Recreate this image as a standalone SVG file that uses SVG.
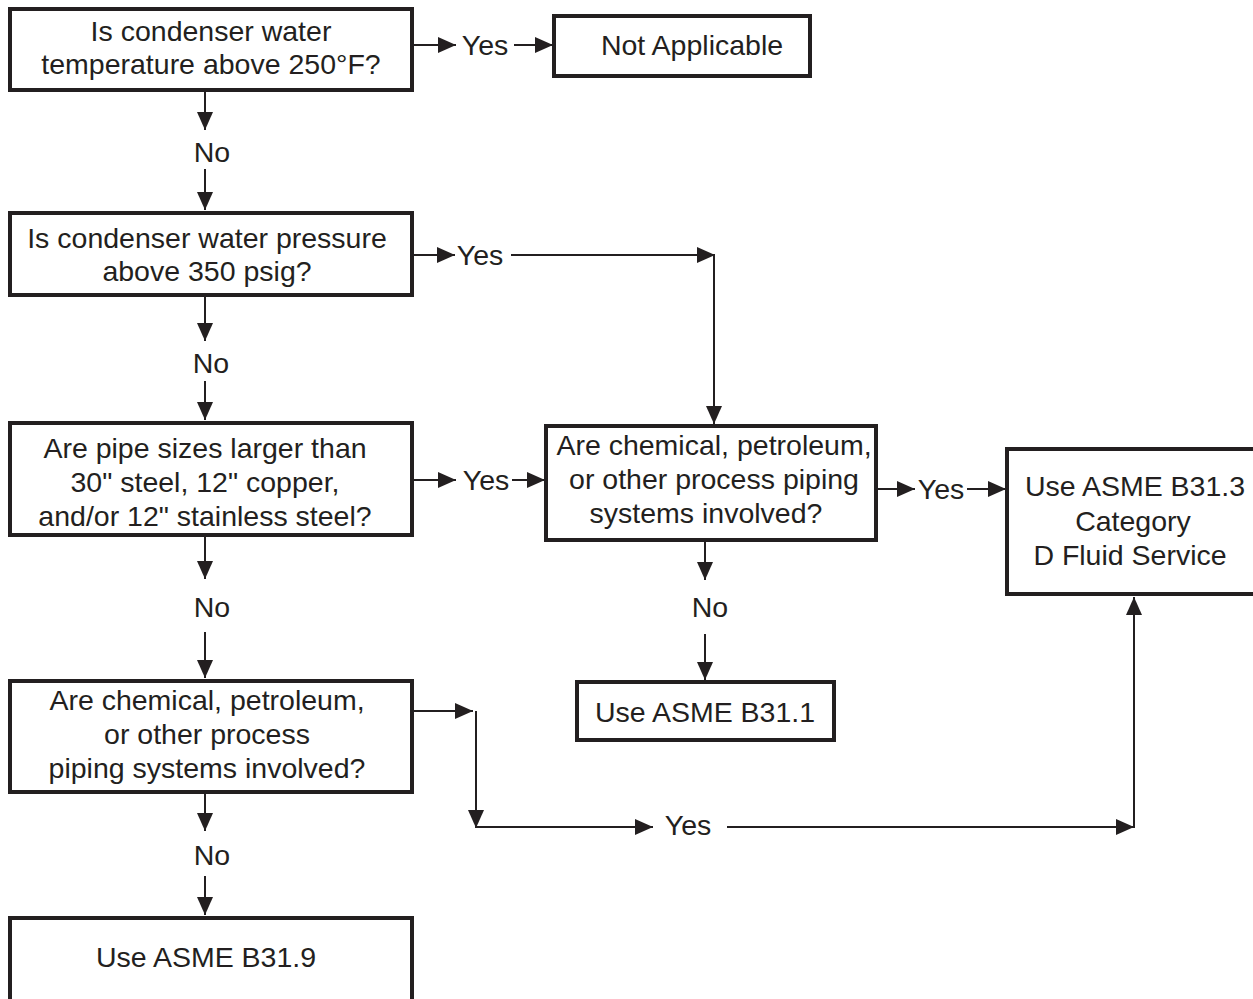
<svg xmlns="http://www.w3.org/2000/svg" width="1253" height="999" viewBox="0 0 1253 999">
<style>
.box{fill:#fff;stroke:#231f20;stroke-width:4}
.t{font-family:"Liberation Sans",Arial,sans-serif;font-size:28.5px;fill:#231f20;text-anchor:middle}
.c{fill:none;stroke:#231f20;stroke-width:2}
</style>
<defs>
<marker id="ahb" viewBox="0 0 18 16" refX="18" refY="8" markerWidth="18" markerHeight="16" markerUnits="userSpaceOnUse" orient="auto">
<path d="M0,0 L18,8 L0,16 Z" fill="#231f20"/>
</marker>
</defs>
<rect width="1253" height="999" fill="#fff"/>
<g id="q1"><rect class="box" x="10" y="9" width="402" height="81"/>
<text class="t" x="211" y="41">Is condenser water</text>
<text class="t" x="211" y="74">temperature above 250°F?</text></g>
<g id="na"><rect class="box" x="554" y="16" width="256" height="60"/>
<text class="t" x="692" y="55">Not Applicable</text></g>
<g id="q2"><rect class="box" x="10" y="213" width="402" height="82"/>
<text class="t" x="207" y="248">Is condenser water pressure</text>
<text class="t" x="207" y="281">above 350 psig?</text></g>
<g id="q3"><rect class="box" x="10" y="423" width="402" height="112"/>
<text class="t" x="205" y="458">Are pipe sizes larger than</text>
<text class="t" x="205" y="492">30" steel, 12" copper,</text>
<text class="t" x="205" y="526">and/or 12" stainless steel?</text></g>
<g id="q4"><rect class="box" x="546" y="426" width="330" height="114"/>
<text class="t" x="714" y="455">Are chemical, petroleum,</text>
<text class="t" x="714" y="489">or other process piping</text>
<text class="t" x="706" y="523">systems involved?</text></g>
<g id="b313"><rect class="box" x="1007" y="449" width="250" height="145"/>
<text class="t" x="1135" y="496">Use ASME B31.3</text>
<text class="t" x="1133" y="531">Category</text>
<text class="t" x="1130" y="565">D Fluid Service</text></g>
<g id="b311"><rect class="box" x="577" y="682" width="257" height="58"/>
<text class="t" x="705" y="722">Use ASME B31.1</text></g>
<g id="q5"><rect class="box" x="10" y="681" width="402" height="111"/>
<text class="t" x="207" y="710">Are chemical, petroleum,</text>
<text class="t" x="207" y="744">or other process</text>
<text class="t" x="207" y="778">piping systems involved?</text></g>
<g id="b319"><rect class="box" x="10" y="918" width="402" height="85"/>
<text class="t" x="206" y="967">Use ASME B31.9</text></g>
<g id="connectors">
<path class="c" d="M205,90 V130" marker-end="url(#ahb)"/>
<text class="t" x="212" y="162">No</text>
<path class="c" d="M205,169 V210" marker-end="url(#ahb)"/>
<path class="c" d="M412,45 H456" marker-end="url(#ahb)"/>
<text class="t" x="485" y="55">Yes</text>
<path class="c" d="M514,45 H553" marker-end="url(#ahb)"/>

<path class="c" d="M205,295 V341" marker-end="url(#ahb)"/>
<text class="t" x="211" y="373">No</text>
<path class="c" d="M205,381 V420" marker-end="url(#ahb)"/>
<path class="c" d="M412,255 H455" marker-end="url(#ahb)"/>
<text class="t" x="480" y="265">Yes</text>
<path class="c" d="M511,255 H715" marker-end="url(#ahb)"/>
<path class="c" d="M714,255 V424" marker-end="url(#ahb)"/>

<path class="c" d="M205,535 V579" marker-end="url(#ahb)"/>
<text class="t" x="212" y="617">No</text>
<path class="c" d="M205,632 V678" marker-end="url(#ahb)"/>
<path class="c" d="M412,480 H456" marker-end="url(#ahb)"/>
<text class="t" x="486" y="490">Yes</text>
<path class="c" d="M512,480 H545" marker-end="url(#ahb)"/>

<path class="c" d="M876,489 H915" marker-end="url(#ahb)"/>
<text class="t" x="941" y="499">Yes</text>
<path class="c" d="M967,489 H1006" marker-end="url(#ahb)"/>

<path class="c" d="M705,540 V580" marker-end="url(#ahb)"/>
<text class="t" x="710" y="617">No</text>
<path class="c" d="M705,634 V680" marker-end="url(#ahb)"/>

<path class="c" d="M205,792 V831" marker-end="url(#ahb)"/>
<text class="t" x="212" y="865">No</text>
<path class="c" d="M205,876 V915" marker-end="url(#ahb)"/>
<path class="c" d="M412,711 H473" marker-end="url(#ahb)"/>
<path class="c" d="M476,711 V828" marker-end="url(#ahb)"/>
<path class="c" d="M476,827 H653" marker-end="url(#ahb)"/>
<text class="t" x="688" y="835">Yes</text>
<path class="c" d="M727,827 H1134" marker-end="url(#ahb)"/>
<path class="c" d="M1134,828 V597" marker-end="url(#ahb)"/>
</g>
</svg>
